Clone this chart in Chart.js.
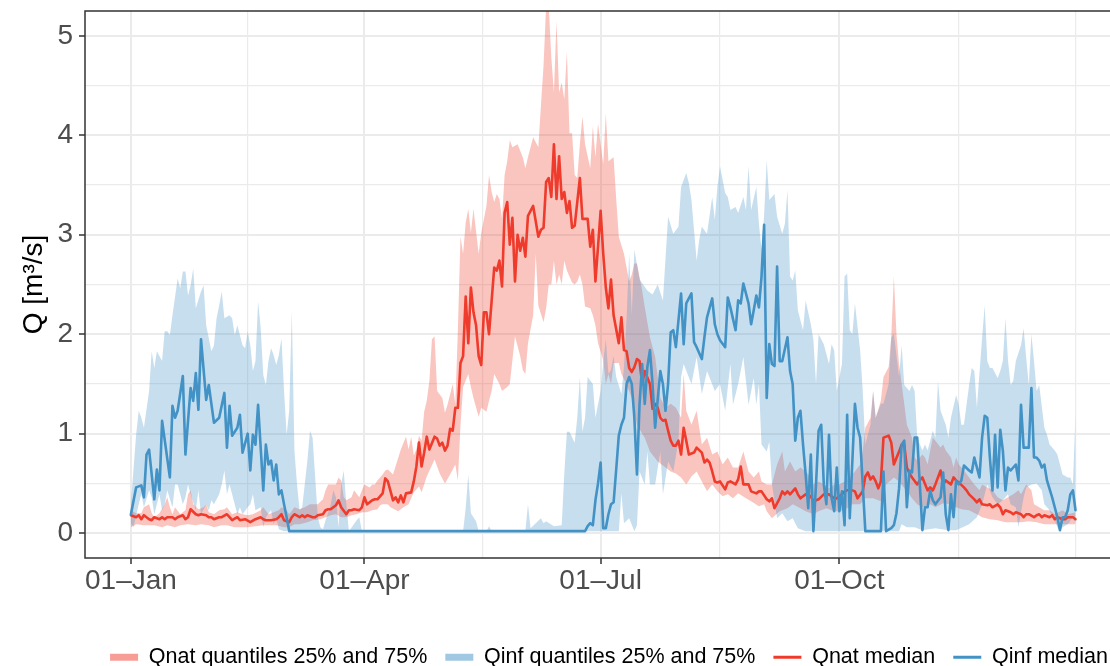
<!DOCTYPE html>
<html>
<head>
<meta charset="utf-8">
<title>Qnat / Qinf</title>
<script src="https://cdn.jsdelivr.net/npm/chart.js@4.4.1/dist/chart.umd.min.js"></script>
<style>
  html, body { margin: 0; padding: 0; background: #fff; overflow: hidden; }
  #wrap { position: relative; width: 1218px; height: 678px; }
</style>
</head>
<body>
<div id="wrap"><canvas id="flow"></canvas></div>
<script>
// [day of year (0 = 01-Jan), Q in m3/s]
const qnatMedian = [[0,.18],[2,.16],[3,.18],[4,.14],[5,.18],[7,.14],[8,.13],[9,.16],[11,.14],[12,.16],[13,.14],[14,.16],[16,.16],[17,.14],[18,.16],[20,.18],[21,.14],[22,.16],[23,.24],[25,.19],[26,.18],[27,.19],[29,.18],[30,.16],[31,.16],[32,.14],[34,.16],[35,.16],[37,.19],[38,.16],[39,.13],[41,.16],[42,.13],[44,.14],[46,.11],[48,.14],[50,.16],[51,.14],[52,.13],[54,.13],[56,.14],[57,.16],[58,.19],[59,.13],[61,.11],[62,.16],[63,.19],[65,.16],[66,.18],[67,.16],[68,.18],[70,.16],[71,.16],[72,.18],[74,.19],[75,.23],[76,.24],[77,.24],[79,.28],[80,.33],[81,.26],[83,.19],[84,.23],[85,.23],[86,.24],[88,.23],[89,.26],[90,.36],[91,.29],[93,.33],[94,.34],[95,.34],[96,.37],[97,.4],[98,.55],[99,.52],[101,.33],[102,.36],[103,.31],[104,.38],[105,.31],[106,.4],[108,.41],[109,.52],[110,.67],[111,.91],[112,.67],[113,.81],[114,.97],[115,.84],[117,.97],[118,.95],[119,.88],[120,.91],[121,.83],[122,.88],[123,1.05],[124,1.03],[125,1.26],[126,1.26],[127,1.71],[128,1.78],[129,2.38],[130,1.91],[131,2.47],[132,2.22],[133,2.09],[134,1.78],[135,1.69],[136,2.22],[137,2.22],[138,2.0],[140,2.67],[141,2.64],[142,2.74],[143,2.48],[144,3.22],[145,3.33],[146,2.9],[147,3.17],[148,2.53],[149,3.0],[150,2.84],[151,2.97],[152,2.78],[153,3.19],[155,3.29],[157,2.98],[158,3.05],[159,3.07],[160,3.53],[161,3.57],[162,3.38],[163,3.91],[164,3.36],[165,3.79],[166,3.36],[167,3.43],[168,3.22],[169,3.34],[170,3.07],[171,3.09],[173,3.57],[174,3.16],[176,3.16],[177,2.88],[178,3.05],[179,2.53],[180,2.88],[181,3.24],[182,2.81],[183,2.47],[184,2.26],[185,2.55],[186,2.19],[188,1.91],[189,2.17],[190,1.84],[191,1.83],[192,1.66],[193,1.62],[194,1.67],[195,1.75],[196,1.73],[197,1.5],[198,1.63],[200,1.5],[201,1.25],[202,1.3],[203,1.26],[204,1.16],[205,1.13],[206,1.14],[207,1.03],[208,.93],[209,.88],[210,.88],[211,.93],[212,.79],[213,1.06],[214,.93],[215,.79],[217,.81],[218,.86],[220,.81],[221,.71],[222,.74],[223,.71],[224,.62],[225,.52],[226,.51],[227,.52],[229,.44],[230,.51],[231,.52],[233,.49],[234,.54],[235,.67],[236,.49],[238,.49],[239,.42],[241,.4],[242,.42],[243,.42],[245,.34],[246,.32],[247,.35],[248,.25],[250,.35],[251,.42],[252,.39],[253,.42],[254,.39],[256,.45],[257,.39],[258,.35],[260,.39],[262,.37],[263,.32],[265,.34],[267,.39],[269,.39],[271,.35],[272,.35],[274,.39],[275,.42],[277,.44],[279,.42],[280,.35],[282,.42],[283,.57],[284,.61],[285,.54],[286,.57],[287,.52],[288,.45],[289,.52],[290,.96],[292,.98],[293,.91],[294,.69],[296,.82],[297,.89],[298,.89],[299,.66],[300,.6],[301,.56],[303,.49],[304,.53],[305,.56],[307,.43],[308,.46],[309,.43],[310,.49],[312,.63],[313,.49],[314,.53],[316,.49],[317,.56],[318,.53],[319,.51],[321,.46],[322,.43],[323,.39],[325,.34],[326,.31],[327,.34],[328,.29],[330,.28],[331,.29],[332,.26],[334,.29],[335,.26],[336,.19],[337,.23],[339,.21],[340,.19],[341,.21],[343,.19],[344,.16],[345,.19],[346,.19],[348,.16],[349,.18],[350,.19],[351,.16],[352,.18],[354,.16],[355,.18],[356,.14],[357,.16],[359,.14],[360,.14],[361,.16],[363,.16],[364,.14]];

const qnatQ75 = [[0,.23],[2,.2],[4,.2],[5,.26],[7,.29],[8,.2],[9,.16],[11,.2],[13,.29],[14,.36],[15,.26],[16,.19],[17,.26],[19,.19],[21,.23],[22,.39],[23,.43],[24,.29],[26,.24],[28,.26],[29,.29],[30,.21],[32,.19],[34,.23],[36,.24],[37,.26],[39,.19],[41,.21],[43,.19],[45,.18],[47,.19],[50,.23],[51,.26],[53,.19],[55,.21],[57,.23],[58,.26],[60,.23],[61,.19],[63,.26],[65,.24],[67,.26],[69,.29],[72,.29],[74,.34],[75,.43],[76,.49],[78,.49],[79,.49],[80,.56],[81,.53],[82,.36],[83,.33],[85,.36],[86,.43],[88,.36],[89,.43],[90,.49],[92,.46],[93,.49],[94,.49],[95,.53],[97,.59],[98,.63],[99,.64],[101,.59],[104,.84],[106,.97],[107,.84],[108,.97],[109,.78],[110,.84],[111,.98],[112,.93],[113,1.22],[114,1.33],[115,1.53],[116,1.95],[117,1.98],[118,1.43],[120,1.36],[121,1.21],[122,1.29],[124,1.5],[125,1.29],[126,2.05],[127,2.98],[128,2.81],[129,3.12],[130,3.26],[131,3.02],[132,3.26],[134,2.81],[135,3.02],[137,3.29],[138,3.6],[139,3.43],[140,3.33],[141,3.41],[142,3.36],[143,3.16],[144,3.6],[145,3.74],[146,3.95],[147,3.88],[149,3.91],[151,3.78],[152,3.67],[153,3.78],[155,3.98],[157,3.88],[158,4.3],[159,4.7],[160,5.3],[161,5.3],[162,4.78],[163,4.43],[164,5.15],[165,4.43],[166,4.53],[167,4.36],[168,4.84],[169,4.02],[170,4.02],[171,3.6],[172,3.57],[173,3.91],[174,4.19],[175,3.91],[177,3.67],[178,4.09],[179,3.78],[180,4.12],[181,3.91],[182,3.71],[183,4.22],[184,3.74],[186,3.78],[187,3.36],[188,2.98],[190,2.81],[192,2.53],[193,2.6],[194,2.71],[195,2.71],[197,2.44],[198,2.27],[200,1.97],[202,1.77],[204,1.36],[206,1.26],[208,1.3],[210,1.26],[212,1.16],[213,1.6],[214,1.23],[216,1.09],[218,1.23],[220,.89],[222,.96],[224,.79],[226,.82],[228,.69],[230,.76],[232,.66],[234,.66],[236,.82],[238,.62],[240,.56],[242,.62],[243,.52],[245,.49],[247,.49],[249,.69],[251,.82],[252,.62],[254,.72],[256,.62],[258,.66],[260,.62],[262,.56],[263,.49],[265,.52],[267,.49],[269,.45],[271,.49],[273,.49],[275,.52],[277,.56],[279,.62],[281,.69],[282,.82],[283,1.06],[285,1.16],[286,1.43],[287,1.16],[289,1.33],[290,1.57],[292,1.67],[293,1.97],[294,2.58],[295,2.0],[296,1.7],[297,1.5],[298,1.3],[299,1.09],[301,.96],[302,.76],[303,.73],[305,.79],[306,.76],[307,.69],[308,.83],[309,.96],[310,.93],[312,.86],[313,.89],[314,.83],[316,.76],[317,.66],[318,.76],[319,.69],[321,.63],[323,.56],[325,.49],[327,.43],[328,.49],[330,.46],[332,.43],[334,.36],[336,.33],[338,.36],[340,.39],[342,.43],[343,.39],[345,.49],[347,.43],[348,.29],[350,.26],[352,.23],[354,.23],[356,.19],[359,.23],[361,.19],[364,.21]];

const qnatQ25 = [[0,.06],[2,.09],[5,.08],[7,.08],[9,.08],[12,.06],[14,.08],[17,.06],[19,.08],[22,.09],[25,.08],[27,.09],[30,.08],[32,.06],[35,.08],[37,.08],[40,.06],[42,.06],[45,.06],[48,.07],[51,.08],[54,.08],[56,.08],[59,.06],[61,.06],[63,.09],[65,.09],[68,.11],[70,.13],[73,.14],[75,.16],[77,.18],[79,.19],[81,.16],[83,.16],[85,.18],[87,.19],[89,.21],[91,.21],[93,.23],[95,.24],[96,.28],[97,.29],[99,.29],[100,.26],[103,.22],[105,.26],[107,.29],[109,.41],[111,.47],[112,.41],[114,.57],[117,.74],[119,.6],[121,.5],[123,.59],[125,.69],[126,.53],[127,1.09],[128,1.47],[130,1.6],[131,1.47],[132,1.36],[134,1.17],[135,1.26],[137,1.22],[138,1.33],[139,1.43],[140,1.6],[142,1.5],[143,1.43],[145,1.47],[146,1.5],[148,1.98],[150,1.78],[151,1.64],[152,1.6],[153,1.91],[155,2.19],[156,2.81],[157,2.29],[159,2.12],[160,2.26],[161,2.5],[162,2.5],[163,2.74],[164,2.5],[165,2.6],[166,2.5],[167,2.74],[168,2.64],[170,2.52],[171,2.5],[172,2.53],[173,2.6],[174,2.5],[175,2.28],[177,2.26],[178,2.19],[179,2.09],[180,1.91],[182,1.74],[183,1.5],[184,1.6],[185,1.5],[186,1.71],[188,1.71],[189,1.6],[190,1.55],[192,1.43],[193,1.36],[195,1.09],[198,.96],[200,.82],[203,.72],[206,.66],[208,.62],[210,.6],[212,.56],[214,.49],[216,.57],[218,.62],[220,.52],[222,.42],[224,.49],[226,.42],[228,.37],[230,.39],[232,.35],[234,.4],[237,.35],[239,.32],[242,.27],[244,.29],[245,.22],[247,.15],[250,.22],[253,.25],[255,.29],[258,.25],[260,.22],[263,.19],[265,.22],[268,.25],[271,.22],[273,.22],[276,.25],[278,.29],[281,.29],[283,.35],[286,.35],[289,.32],[291,.49],[294,.56],[296,.52],[299,.42],[301,.35],[303,.29],[305,.26],[308,.29],[310,.26],[313,.3],[316,.29],[318,.26],[320,.24],[323,.23],[326,.19],[328,.16],[331,.14],[334,.13],[337,.11],[340,.11],[343,.11],[346,.12],[349,.11],[352,.09],[355,.09],[358,.09],[361,.09],[364,.09]];

const qinfMedian = [[0,.19],[2,.46],[4,.48],[5,.36],[6,.79],[7,.84],[9,.34],[10,.64],[11,.43],[12,1.13],[15,.56],[16,1.28],[17,1.16],[18,1.23],[20,1.58],[21,.79],[23,1.46],[24,1.33],[25,1.61],[26,1.24],[27,1.95],[29,1.34],[30,1.49],[32,1.11],[34,1.16],[36,1.41],[37,.86],[38,1.28],[39,.98],[41,1.06],[42,1.19],[43,.81],[45,1.0],[46,.63],[47,.99],[48,.89],[49,1.29],[50,.86],[51,.43],[52,.89],[53,.69],[54,.73],[55,.53],[56,.69],[57,.39],[58,.43],[59,.29],[60,.16],[61,.02],[175,.02],[176,.07],[177,.1],[178,.08],[179,.33],[180,.5],[181,.71],[182,.05],[183,.05],[184,.19],[185,.29],[186,.31],[187,.64],[188,.98],[189,1.09],[190,1.16],[191,1.5],[192,1.57],[193,1.5],[194,1.16],[195,.59],[196,1.3],[197,1.7],[198,1.3],[199,1.67],[200,1.84],[201,1.5],[202,1.06],[204,1.63],[205,1.5],[206,1.23],[207,1.5],[208,2.02],[209,2.04],[210,1.87],[212,2.41],[213,1.9],[214,2.31],[216,2.41],[217,1.92],[218,1.87],[220,1.75],[221,1.97],[222,2.17],[224,2.36],[225,2.1],[226,2.0],[227,1.94],[229,1.87],[230,2.37],[231,2.27],[233,2.04],[234,2.34],[235,2.31],[236,2.51],[238,2.31],[239,2.1],[240,2.24],[241,2.39],[242,2.27],[243,2.58],[244,3.1],[245,1.36],[246,1.9],[247,1.7],[248,1.68],[249,2.68],[250,1.73],[251,1.73],[253,1.97],[254,1.63],[255,1.5],[256,.93],[257,1.16],[258,1.23],[259,.89],[260,.59],[261,.25],[262,.79],[263,.02],[264,.49],[265,1.03],[266,1.09],[267,.49],[268,.29],[269,.99],[270,.35],[271,.22],[272,.66],[273,.22],[274,.42],[275,.08],[276,1.19],[277,.15],[278,.72],[279,1.3],[280,1.06],[281,.96],[282,.49],[283,.02],[289,.02],[290,.62],[291,.02],[293,.05],[294,.08],[295,.2],[296,.45],[297,.89],[298,.93],[299,.26],[300,.63],[301,.61],[302,.96],[303,.96],[304,.49],[305,.03],[306,.26],[307,.26],[308,.43],[309,.33],[310,.29],[312,.36],[313,.61],[314,.19],[315,.03],[316,.39],[317,.16],[318,.53],[319,.49],[320,.53],[321,.68],[323,.63],[324,.61],[325,.76],[327,.56],[328,.96],[329,1.18],[330,1.16],[331,.76],[332,.43],[333,.99],[334,.46],[335,1.04],[336,.83],[337,.43],[338,.66],[339,.63],[341,.69],[342,.53],[343,1.29],[344,.86],[346,.86],[347,1.46],[348,.76],[349,.76],[350,.73],[351,.66],[352,.69],[353,.53],[355,.36],[356,.26],[357,.16],[358,.03],[359,.16],[360,.16],[361,.23],[362,.39],[363,.43],[364,.23]];

const qinfQ75 = [[0,.3],[2,.99],[3,1.23],[4,1.16],[5,1.06],[7,1.43],[8,1.83],[9,1.66],[10,1.83],[12,1.73],[13,2.03],[14,2.03],[15,1.99],[16,2.19],[18,2.56],[19,2.46],[20,2.63],[21,2.63],[22,2.39],[23,2.49],[24,2.66],[25,2.26],[27,2.43],[28,2.49],[29,2.09],[31,1.83],[32,1.89],[33,2.16],[34,2.29],[35,2.43],[36,2.16],[38,2.19],[39,2.16],[40,1.99],[41,2.09],[43,1.89],[44,1.86],[45,2.03],[46,1.89],[47,1.63],[48,1.73],[49,2.33],[50,2.06],[51,1.59],[52,1.49],[53,1.73],[54,1.86],[55,1.79],[56,1.69],[57,1.79],[58,1.96],[59,1.43],[60,.99],[61,1.23],[62,2.23],[63,.83],[64,.49],[65,.23],[66,.26],[68,.73],[69,1.03],[70,.96],[71,.56],[72,.16],[73,.06],[74,.04],[75,.13],[77,.29],[78,.43],[79,.36],[80,.06],[81,.49],[82,.63],[83,.29],[84,.02],[87,.13],[88,.16],[89,.02],[128,.02],[129,.25],[130,.59],[131,.2],[133,.12],[134,.02],[137,.02],[138,.07],[139,.02],[152,.02],[153,.29],[154,.05],[158,.15],[159,.1],[160,.12],[163,.07],[166,.08],[167,.6],[168,1.02],[169,1.02],[171,.91],[172,1.16],[173,1.57],[174,1.02],[175,1.16],[176,1.57],[178,1.5],[179,1.16],[181,1.43],[182,1.71],[183,1.95],[184,1.6],[185,1.64],[186,1.78],[187,1.57],[189,1.4],[190,1.67],[191,2.16],[192,2.81],[193,2.19],[194,2.85],[196,2.55],[199,2.44],[201,2.4],[203,2.5],[205,2.34],[207,3.18],[209,3.01],[211,3.08],[212,3.48],[214,3.62],[215,3.52],[216,3.35],[218,2.74],[219,2.95],[220,3.08],[222,3.01],[224,3.38],[225,3.15],[226,3.48],[227,3.69],[229,3.42],[230,3.38],[231,3.25],[233,3.28],[234,3.22],[236,3.38],[237,3.25],[238,3.69],[239,3.25],[241,3.48],[242,3.11],[243,2.85],[244,3.2],[245,3.75],[246,3.35],[248,3.41],[249,3.18],[251,3.01],[252,3.11],[253,3.45],[254,2.58],[255,2.54],[256,2.64],[257,2.24],[259,2.04],[260,2.34],[262,2.1],[263,1.94],[264,1.5],[265,2.0],[267,1.9],[269,1.7],[270,1.9],[271,1.84],[272,1.43],[274,1.7],[275,2.58],[276,2.61],[277,2.04],[278,2.0],[279,2.31],[281,1.84],[282,1.43],[283,.89],[285,1.09],[286,1.43],[287,1.16],[289,1.3],[290,1.3],[292,1.5],[293,1.97],[294,2.0],[296,1.57],[297,1.89],[298,1.49],[300,1.43],[301,1.49],[302,1.43],[303,.96],[305,.83],[306,.89],[307,.83],[309,1.03],[310,.96],[311,1.53],[312,1.23],[314,1.09],[315,.96],[316,1.16],[318,1.39],[319,1.29],[320,1.09],[321,1.09],[323,1.49],[324,1.66],[325,1.63],[326,1.26],[328,1.96],[329,2.29],[330,1.73],[331,1.66],[332,1.66],[334,1.56],[335,1.63],[336,1.73],[337,2.16],[338,1.73],[339,1.49],[340,1.53],[341,1.73],[343,1.89],[344,2.06],[345,1.76],[346,1.49],[347,2.0],[348,1.73],[349,1.43],[350,1.49],[352,1.06],[353,.99],[354,.89],[356,.83],[357,.79],[358,.69],[359,.59],[361,.56],[362,.56],[363,.49],[364,1.2]];

const qinfQ25 = [[0,.1],[1,.06],[3,.29],[4,.39],[5,.26],[7,.43],[8,.36],[9,.19],[11,.39],[12,.23],[13,.29],[14,.43],[16,.26],[17,.49],[18,.49],[20,.29],[21,.36],[22,.49],[23,.39],[25,.23],[26,.43],[27,.19],[29,.29],[30,.23],[31,.33],[32,.29],[34,.39],[35,.49],[36,.63],[37,.39],[38,.49],[40,.29],[41,.19],[42,.26],[43,.19],[45,.26],[46,.29],[47,.39],[48,.23],[50,.26],[51,.06],[52,.16],[54,.23],[55,.09],[56,.16],[57,.04],[59,.02],[188,.02],[189,.4],[190,.1],[192,.15],[194,.02],[195,.08],[196,.62],[198,.49],[199,.82],[200,.49],[202,.49],[204,.82],[205,.39],[207,.72],[209,.62],[211,.93],[212,1.57],[213,1.7],[216,1.5],[218,1.77],[220,1.4],[222,1.63],[225,1.43],[227,1.5],[229,1.23],[231,1.7],[232,1.29],[234,1.5],[236,1.77],[238,1.29],[240,1.56],[241,1.29],[242,1.5],[243,.89],[245,.82],[246,.92],[247,.5],[249,.15],[251,.2],[253,.12],[255,.15],[257,.05],[260,.02],[296,.02],[297,.09],[299,.06],[302,.06],[305,.03],[310,.05],[315,.03],[318,.03],[323,.09],[326,.16],[328,.29],[330,.49],[332,.36],[334,.29],[336,.33],[338,.39],[339,.29],[341,.26],[342,.06],[344,.36],[345,.46],[347,.49],[349,.5],[351,.43],[352,.29],[354,.23],[355,.16],[356,.13],[357,.06],[358,.03],[359,.06],[361,.09],[363,.16],[364,.1]];

// axis breaks
const monthDays = [0, 90, 181, 273];
const monthLabels = ['01–Jan', '01–Apr', '01–Jul', '01–Oct'];
const midMonthDays = [45, 135.5, 227, 319, 364];
const yMajor = [0, 1, 2, 3, 4, 5];
const yMinor = [0.5, 1.5, 2.5, 3.5, 4.5];

const legendText = ['Qnat quantiles 25% and 75%', 'Qinf quantiles 25% and 75%', 'Qnat median', 'Qinf median'];

const RED = '#EF3B2C';
const BLUE = '#4292C6';
const FONT = "'Liberation Sans', Arial, Helvetica, sans-serif";

Chart.defaults.font.family = FONT;

const toXY = rows => rows.map(([x, y]) => ({ x, y }));

// panel runs on past the right edge of the page, 2.595 px per day
const CANVAS_W = 1218;
const xMin = -17.7;
const xMax = xMin + (CANVAS_W - 85) / 2.595;

const isMajorX = v => monthDays.includes(v);
const isMajorY = v => yMajor.includes(v);

const band = (rows, fill, colour, order) => ({
  data: toXY(rows),
  borderWidth: 0,
  borderColor: 'rgba(0,0,0,0)',
  backgroundColor: colour,
  pointRadius: 0,
  fill,
  order
});

const median = (rows, colour, order) => ({
  data: toXY(rows),
  borderColor: colour,
  borderWidth: 2.6,
  borderJoinStyle: 'round',
  borderCapStyle: 'round',
  pointRadius: 0,
  fill: false,
  order
});

const panelBorder = {
  id: 'panelBorder',
  afterDatasetsDraw(chart) {
    const { ctx, chartArea: a } = chart;
    ctx.save();
    ctx.strokeStyle = '#333333';
    ctx.lineWidth = 1.5;
    ctx.strokeRect(a.left, a.top, a.right - a.left, a.bottom - a.top);
    ctx.restore();
  }
};

new Chart(document.getElementById('flow'), {
  type: 'line',
  data: {
    datasets: [
      band(qnatQ25, false, 'rgba(0,0,0,0)', 4),
      band(qnatQ75, '-1', 'rgba(239,59,44,0.3)', 3),
      band(qinfQ25, false, 'rgba(0,0,0,0)', 2),
      band(qinfQ75, '-1', 'rgba(66,146,198,0.3)', 2),
      median(qnatMedian, RED, 1),
      median(qinfMedian, BLUE, 0)
    ]
  },
  options: {
    responsive: true,
    maintainAspectRatio: false,
    animation: false,
    events: [],
    layout: { padding: { top: 11, left: 0, right: 0, bottom: 0 } },
    plugins: {
      tooltip: { enabled: false },
      legend: {
        position: 'bottom',
        align: 'center',
        labels: {
          usePointStyle: true,
          pointStyleWidth: 28,
          boxHeight: 7,
          padding: 18,
          color: '#000',
          font: { size: 21.5 },
          generateLabels: () => [
            { text: legendText[0], pointStyle: 'rect', fillStyle: 'rgba(239,59,44,0.5)', strokeStyle: 'rgba(0,0,0,0)', lineWidth: 0, hidden: false, datasetIndex: 1 },
            { text: legendText[1], pointStyle: 'rect', fillStyle: 'rgba(66,146,198,0.5)', strokeStyle: 'rgba(0,0,0,0)', lineWidth: 0, hidden: false, datasetIndex: 3 },
            { text: legendText[2], pointStyle: 'line', fillStyle: RED, strokeStyle: RED, lineWidth: 3, hidden: false, datasetIndex: 4 },
            { text: legendText[3], pointStyle: 'line', fillStyle: BLUE, strokeStyle: BLUE, lineWidth: 3, hidden: false, datasetIndex: 5 }
          ]
        }
      }
    },
    scales: {
      x: {
        type: 'linear',
        min: xMin,
        max: xMax,
        afterBuildTicks: s => { s.ticks = monthDays.concat(midMonthDays).sort((a, b) => a - b).map(value => ({ value })); },
        afterFit: s => { s.height = 70.5; },
        ticks: {
          autoSkip: false,
          maxRotation: 0,
          padding: 0,
          color: '#4D4D4D',
          font: { size: 28 },
          callback: v => isMajorX(v) ? monthLabels[monthDays.indexOf(v)] : ''
        },
        grid: {
          color: '#EBEBEB',
          lineWidth: c => isMajorX(c.tick.value) ? 2 : 1.2,
          tickColor: c => isMajorX(c.tick.value) ? '#333333' : 'rgba(0,0,0,0)',
          tickLength: 6,
          tickWidth: 1.5
        },
        border: { display: false }
      },
      y: {
        min: -0.25,
        max: 5.25,
        afterBuildTicks: s => { s.ticks = yMajor.concat(yMinor).sort((a, b) => a - b).map(value => ({ value })); },
        // fixed axis width; tick labels sit inside the panel range, so no extra end padding
        afterFit: s => { s.width = 85; s.paddingTop = 0; s.paddingBottom = 0; },
        ticks: {
          padding: 6,
          color: '#4D4D4D',
          font: { size: 28 },
          callback: v => isMajorY(v) ? String(v) : ''
        },
        grid: {
          color: '#EBEBEB',
          lineWidth: c => isMajorY(c.tick.value) ? 2 : 1.2,
          tickColor: c => isMajorY(c.tick.value) ? '#333333' : 'rgba(0,0,0,0)',
          tickLength: 6,
          tickWidth: 1.5
        },
        border: { display: false },
        title: {
          display: true,
          text: 'Q [m³/s]',
          color: '#000',
          font: { size: 28 },
          padding: { top: 17, bottom: 0 }
        }
      }
    }
  },
  plugins: [panelBorder]
});
</script>
</body>
</html>
